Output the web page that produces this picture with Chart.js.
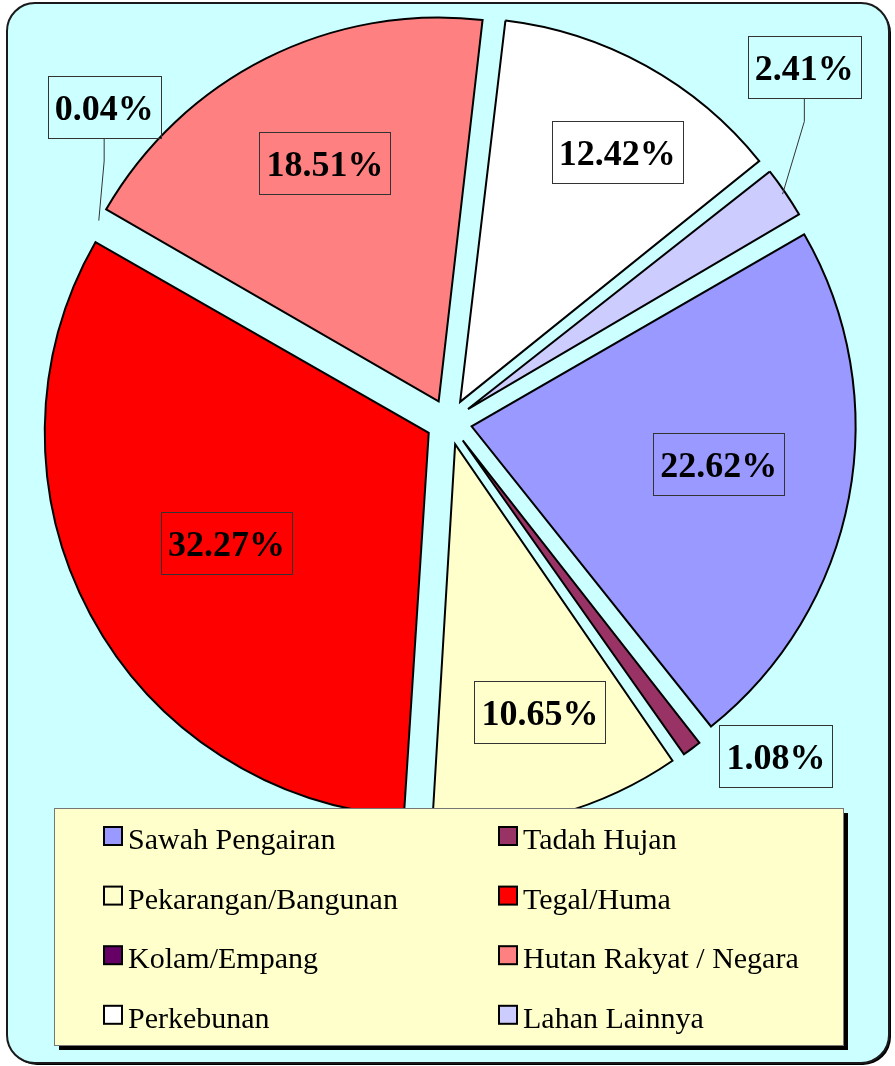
<!DOCTYPE html>
<html lang="id">
<head>
<meta charset="UTF-8">
<title>Penggunaan Lahan</title>
<script src="https://cdn.jsdelivr.net/npm/chart.js"></script>
<style>
    body { margin: 0; padding: 0; background: #fff; }
    #wrap { width: 895px; height: 1066px; }
</style>
</head>
<body>
<div id="wrap"><canvas id="pie" width="895" height="1066"></canvas></div>
<script>
// data, in the order Excel draws the slices (clockwise)
const categories = ['Sawah Pengairan', 'Tadah Hujan', 'Pekarangan/Bangunan', 'Tegal/Huma',
                    'Kolam/Empang', 'Hutan Rakyat / Negara', 'Perkebunan', 'Lahan Lainnya'];
const percents = [22.62, 1.08, 10.65, 32.27, 0.04, 18.51, 12.42, 2.41];
const colors = ['#9999FF', '#993366', '#FFFFCC', '#FF0000', '#660066', '#FF8080', '#FFFFFF', '#CCCCFF'];
// the 0.04% sliver has no visible outline in the original
const outlines = [2, 2, 2, 2, 0, 2, 2, 2];

// where each value label sits: distance from the pie centre, and angle shift (deg) off the slice middle
const labelDist = [273, 467, 304, 253, 467, 287, 318, 502];
const labelShift = [-1.9, -7.8, -1.9, -0.2, 12.5, 1.1, 3, -10.6];
const labelLeader = [false, false, false, false, true, false, false, true];

const SERIF = '"Liberation Serif", "Times New Roman", serif';
// chart.js v4 moves an arc by offset/4 px, so 92 gives the ~23px explode of the original
const EXPLODE = 92;

function roundRect(ctx, x, y, w, h, r) {
    ctx.beginPath();
    ctx.moveTo(x + r, y);
    ctx.arcTo(x + w, y, x + w, y + h, r);
    ctx.arcTo(x + w, y + h, x, y + h, r);
    ctx.arcTo(x, y + h, x, y, r);
    ctx.arcTo(x, y, x + w, y, r);
    ctx.closePath();
}

const frame = {
    id: 'frame',
    beforeDraw(chart) {
        const ctx = chart.ctx;
        ctx.save();
        roundRect(ctx, 9, 5, 882, 1060, 28);
        ctx.fillStyle = '#000';
        ctx.fill();
        roundRect(ctx, 7, 3, 882, 1060, 28);
        ctx.fillStyle = '#CCFFFF';
        ctx.fill();
        ctx.lineWidth = 2;
        ctx.strokeStyle = '#1a1a1a';
        ctx.stroke();
        ctx.restore();
    }
};

// chart.js grows narrow exploded slices by offset*(1-sin(angle)); take that back out
// so every slice keeps the same radius like in Excel
const evenRadius = {
    id: 'evenRadius',
    beforeDatasetsDraw(chart) {
        const meta = chart.getDatasetMeta(0);
        const R = meta.controller.outerRadius;
        meta.data.forEach(arc => {
            const fix = 1 - Math.sin(Math.min(Math.PI, arc.circumference));
            arc.outerRadius = R - (arc.options.offset / 4) * fix;
        });
    }
};

const valueLabels = {
    id: 'valueLabels',
    afterDatasetsDraw(chart) {
        const ctx = chart.ctx;
        const meta = chart.getDatasetMeta(0);
        const R = meta.controller.outerRadius;
        ctx.save();
        ctx.font = 'bold 36px ' + SERIF;
        ctx.textAlign = 'center';
        ctx.textBaseline = 'alphabetic';
        meta.data.forEach((arc, i) => {
            const p = arc.getProps(['x', 'y', 'startAngle', 'endAngle']);
            const mid = (p.startAngle + p.endAngle) / 2;
            const a = mid + labelShift[i] * Math.PI / 180;
            const lx = p.x + Math.cos(a) * labelDist[i];
            const ly = p.y + Math.sin(a) * labelDist[i];
            const txt = percents[i].toFixed(2) + '%';
            const w = ctx.measureText(txt).width + 14;
            const h = 62;
            if (labelLeader[i]) {
                const r = R + arc.options.offset / 4 - 3;
                ctx.beginPath();
                ctx.moveTo(lx, ly + h / 2);
                ctx.lineTo(lx, ly + h / 2 + 23);
                ctx.lineTo(p.x + Math.cos(mid) * r, p.y + Math.sin(mid) * r);
                ctx.lineWidth = 1;
                ctx.strokeStyle = '#333';
                ctx.stroke();
            }
            ctx.lineWidth = 1;
            ctx.strokeStyle = '#333';
            ctx.strokeRect(Math.round(lx - w / 2) + 0.5, Math.round(ly - h / 2) + 0.5, Math.round(w), h);
            ctx.fillStyle = '#000';
            ctx.fillText(txt, lx, ly + 13);
        });
        ctx.restore();
    }
};

const boxLegend = {
    id: 'boxLegend',
    afterDraw(chart) {
        const ctx = chart.ctx;
        const x0 = 54, y0 = 808, x1 = 843, y1 = 1045;
        ctx.save();
        ctx.fillStyle = '#000';
        ctx.fillRect(x0 + 5, y0 + 5, x1 - x0, y1 - y0);
        ctx.fillStyle = '#FFFFCC';
        ctx.fillRect(x0, y0, x1 - x0, y1 - y0);
        ctx.lineWidth = 1;
        ctx.strokeStyle = '#777';
        ctx.strokeRect(x0 + 0.5, y0 + 0.5, x1 - x0, y1 - y0);

        ctx.font = '30px ' + SERIF;
        ctx.textAlign = 'left';
        ctx.textBaseline = 'alphabetic';
        const colX = [104, 499];
        chart.data.labels.forEach((lab, i) => {
            const sx = colX[i % 2];
            const cy = 836 + Math.floor(i / 2) * 59.6;
            ctx.fillStyle = chart.data.datasets[0].backgroundColor[i];
            ctx.fillRect(sx, cy - 9, 18, 18);
            ctx.lineWidth = 2;
            ctx.strokeStyle = '#000';
            ctx.strokeRect(sx, cy - 9, 18, 18);
            ctx.fillStyle = '#000';
            ctx.fillText(lab, sx + 24, cy + 13);
        });
        ctx.restore();
    }
};

new Chart(document.getElementById('pie'), {
    type: 'pie',
    data: {
        labels: categories,
        datasets: [{
            data: percents,
            backgroundColor: colors,
            borderColor: '#000',
            borderWidth: outlines,
            borderJoinStyle: 'miter',
            offset: EXPLODE,
            hoverOffset: 0
        }]
    },
    options: {
        responsive: false,
        animation: false,
        rotation: 60,
        radius: 384,
        clip: false,
        layout: { padding: { left: 3, right: 0, top: 0, bottom: 222 } },
        events: [],
        plugins: {
            legend: { display: false },
            tooltip: { enabled: false }
        }
    },
    plugins: [frame, evenRadius, valueLabels, boxLegend]
});
</script>
</body>
</html>
